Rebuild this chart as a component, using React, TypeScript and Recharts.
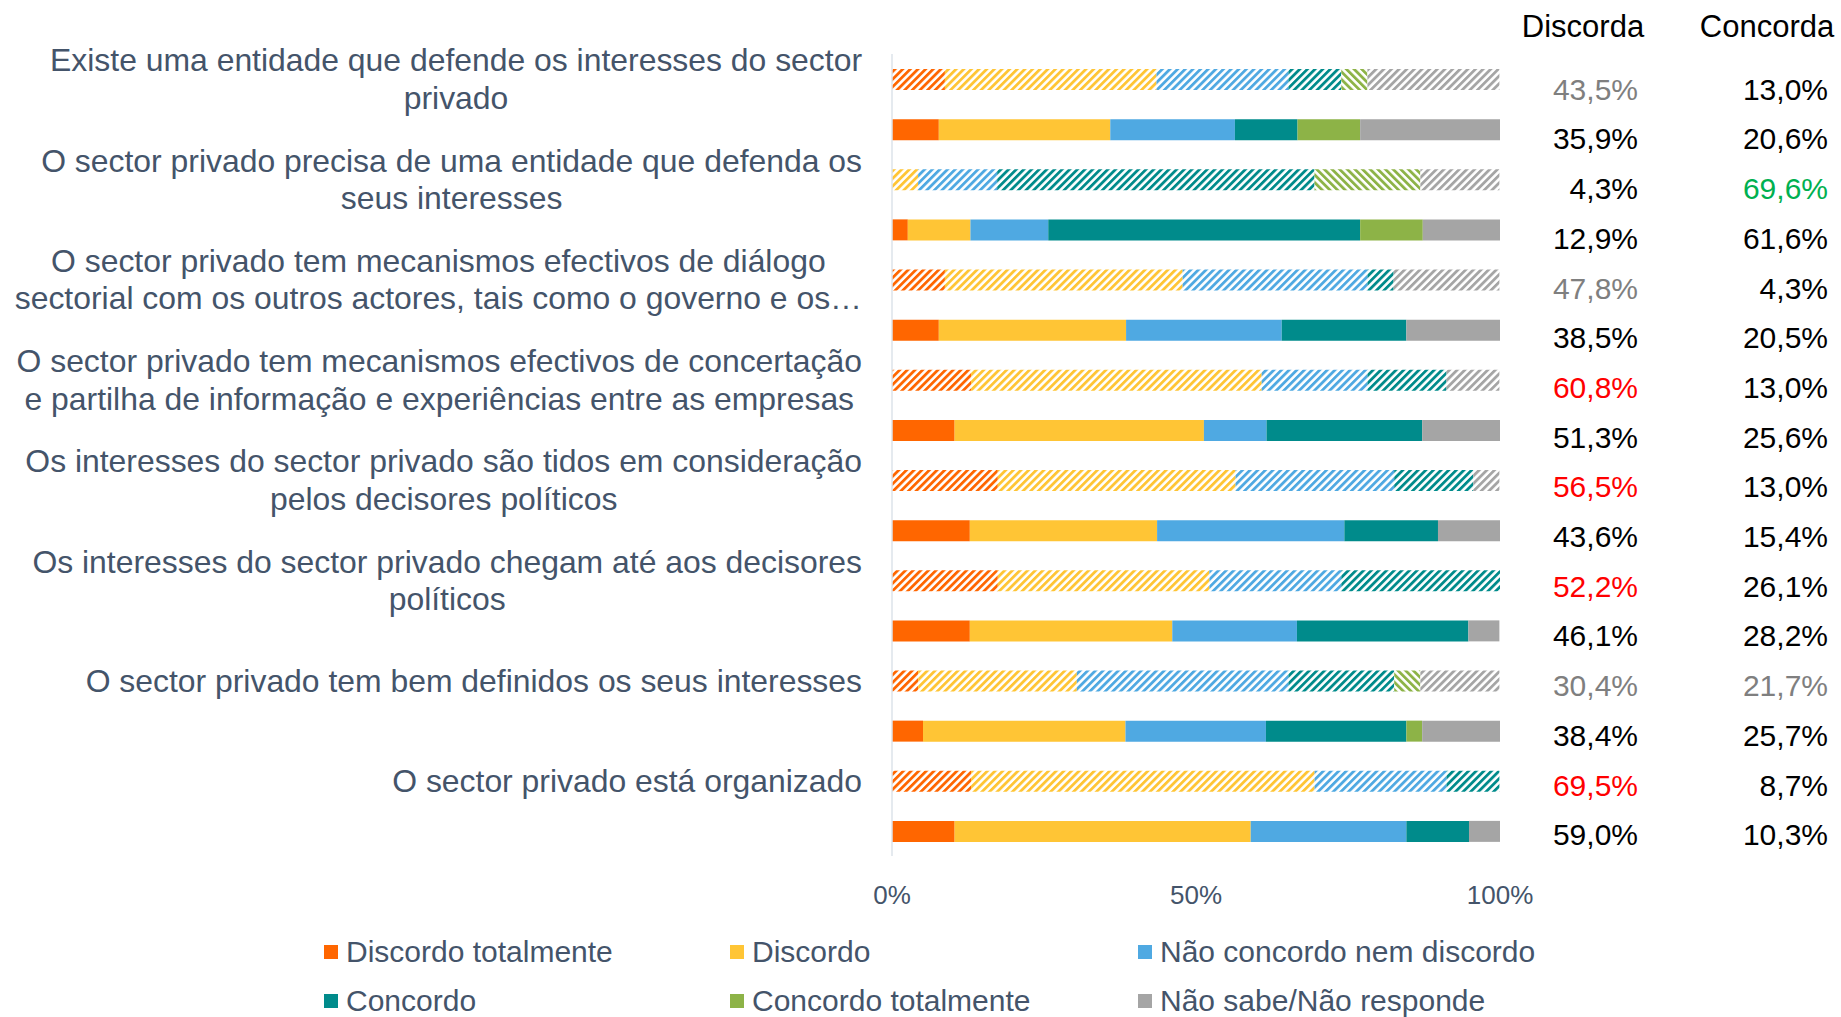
import React from 'react';
import { BarChart, Bar, XAxis, YAxis, Cell } from 'recharts';

const FONT = '"Liberation Sans", Arial, sans-serif';
const SLATE = '#44546a';

// 16 rows: even index = hatched (first survey), odd index = solid (second survey)
const rowIds = ['r0','r1','r2','r3','r4','r5','r6','r7','r8','r9','r10','r11','r12','r13','r14','r15'];
const hatchedRows = [true,false,true,false,true,false,true,false,true,false,true,false,true,false,true,false];

const categoryLines: (string[] | null)[] = [
  ['Existe uma entidade que defende os interesses do sector', 'privado'], null,
  ['O sector privado precisa de uma entidade que defenda os', 'seus interesses'], null,
  ['O sector privado tem mecanismos efectivos de diálogo', 'sectorial com os outros actores, tais como o governo e os…'], null,
  ['O sector privado tem mecanismos efectivos de concertação', 'e partilha de informação e experiências entre as empresas'], null,
  ['Os interesses do sector privado são tidos em consideração', 'pelos decisores políticos'], null,
  ['Os interesses do sector privado chegam até aos decisores', 'políticos'], null,
  ['O sector privado tem bem definidos os seus interesses'], null,
  ['O sector privado está organizado'], null,
];

const discordoTotalmente = [8.7, 7.7, 0, 2.6, 8.7, 7.7, 13.0, 10.3, 17.4, 12.8, 17.4, 12.8, 4.3, 5.1, 13.0, 10.3];
const discordo = [34.8, 28.2, 4.3, 10.3, 39.1, 30.8, 47.8, 41.0, 39.1, 30.8, 34.8, 33.3, 26.1, 33.3, 56.5, 48.7];
const naoConcordo = [21.7, 20.5, 13.0, 12.8, 30.4, 25.6, 17.4, 10.3, 26.1, 30.8, 21.7, 20.5, 34.8, 23.1, 21.7, 25.6];
const concordo = [8.7, 10.3, 52.2, 51.3, 4.3, 20.5, 13.0, 25.6, 13.0, 15.4, 26.1, 28.2, 17.4, 23.1, 8.7, 10.3];
const concordoTotalmente = [4.3, 10.3, 17.4, 10.3, 0, 0, 0, 0, 0, 0, 0, 0, 4.3, 2.6, 0, 0];
const naoSabe = [21.7, 23.1, 13.0, 12.8, 17.4, 15.4, 8.7, 12.8, 4.3, 10.3, 0, 5.1, 13.0, 12.8, 0, 5.1];

const discordaLabels = ['43,5%','35,9%','4,3%','12,9%','47,8%','38,5%','60,8%','51,3%','56,5%','43,6%','52,2%','46,1%','30,4%','38,4%','69,5%','59,0%'];
const concordaLabels = ['13,0%','20,6%','69,6%','61,6%','4,3%','20,5%','13,0%','25,6%','13,0%','15,4%','26,1%','28,2%','21,7%','25,7%','8,7%','10,3%'];
const discordaColors = ['#7f7f7f','#000','#000','#000','#7f7f7f','#000','#ff0000','#000','#ff0000','#000','#ff0000','#000','#7f7f7f','#000','#ff0000','#000'];
const concordaColors = ['#000','#000','#00b050','#000','#000','#000','#000','#000','#000','#000','#000','#000','#7f7f7f','#000','#000','#000'];

const xTicks = [0, 50, 100];

const series = [
  { key: 'dt', name: 'Discordo totalmente', color: '#ff6600', values: discordoTotalmente, dir: 45 },
  { key: 'd', name: 'Discordo', color: '#ffc535', values: discordo, dir: 45 },
  { key: 'n', name: 'Não concordo nem discordo', color: '#4fa9e2', values: naoConcordo, dir: 45 },
  { key: 'c', name: 'Concordo', color: '#008b8b', values: concordo, dir: 45 },
  { key: 'ct', name: 'Concordo totalmente', color: '#8db347', values: concordoTotalmente, dir: -45 },
  { key: 'ns', name: 'Não sabe/Não responde', color: '#a5a5a5', values: naoSabe, dir: 45 },
];

const data = rowIds.map((id, i) => {
  const row: any = { id, hatched: hatchedRows[i] };
  series.forEach((s) => { row[s.key] = s.values[i]; });
  return row;
});

let ctx: CanvasRenderingContext2D | null = null;
const measure = (s: string, size: number) => {
  if (!ctx) ctx = document.createElement('canvas').getContext('2d');
  if (!ctx) return s.length * size * 0.5;
  ctx.font = `${size}px ${FONT}`;
  return ctx.measureText(s).width;
};

const LABEL_SIZE = 31.9;
const LINE_H = 37.6;
const LABEL_RIGHT = 862;

// value table rows are laid out slightly differently from the bar rows
const TABLE_TOP = 89.2;
const TABLE_STEP = 49.7;

const LeftTick = (props: any) => {
  const { y, index } = props;
  const lines = categoryLines[index];
  if (!lines) return null;
  const w = Math.max(...lines.map((l) => measure(l, LABEL_SIZE)));
  const cx = LABEL_RIGHT - w / 2;
  return (
    <g>
      {lines.map((l, i) => (
        <text key={i} x={cx} y={y + (i - (lines.length - 1) / 2) * LINE_H} textAnchor="middle" dominantBaseline="central"
          fontFamily={FONT} fontSize={LABEL_SIZE} fill={SLATE}>{l}</text>
      ))}
    </g>
  );
};

const RightTick = (props: any) => {
  const { index } = props;
  const ty = TABLE_TOP + index * TABLE_STEP;
  return (
    <g>
      {index === 0 && (
        <>
          <text x={1583} y={26} textAnchor="middle" dominantBaseline="central" fontFamily={FONT} fontSize={31} fill="#000">Discorda</text>
          <text x={1767} y={26} textAnchor="middle" dominantBaseline="central" fontFamily={FONT} fontSize={31} fill="#000">Concorda</text>
        </>
      )}
      <text x={1638} y={ty} textAnchor="end" dominantBaseline="central" fontFamily={FONT} fontSize={30} fill={discordaColors[index]}>{discordaLabels[index]}</text>
      <text x={1828} y={ty} textAnchor="end" dominantBaseline="central" fontFamily={FONT} fontSize={30} fill={concordaColors[index]}>{concordaLabels[index]}</text>
    </g>
  );
};

const XTick = (props: any) => {
  const { x, y, payload } = props;
  return (
    <text x={x} y={y + 31} textAnchor="middle" dominantBaseline="central" fontFamily={FONT} fontSize={26} fill={SLATE}>{`${payload.value}%`}</text>
  );
};

const legendCols = [324, 730, 1138];
const legendRows = [952, 1001];

export default function App() {
  return (
    <div style={{ position: 'absolute', left: 0, top: 0, width: 1841, height: 1017, background: '#fff' }}>
      <BarChart width={1841} height={1017} data={data} layout="vertical"
        margin={{ top: 54, right: 0, bottom: 101, left: 0 }}>
        <defs>
          {series.map((s) => (
            <pattern key={s.key} id={`hatch-${s.key}`} patternUnits="userSpaceOnUse" width={5.4} height={5.4}
              patternTransform={`rotate(${s.dir})`}>
              <rect x={0} y={0} width={5.4} height={5.4} fill="#fff" />
              <rect x={0} y={0} width={2.8} height={5.4} fill={s.color} />
            </pattern>
          ))}
        </defs>
        <XAxis type="number" domain={[0, 100]} allowDataOverflow ticks={xTicks} axisLine={false} tickLine={false}
          height={60} tick={<XTick />} interval={0} />
        <YAxis yAxisId="left" type="category" dataKey="id" width={892} axisLine={{ stroke: '#dde3ea', strokeWidth: 1.5 }}
          tickLine={false} tick={<LeftTick />} interval={0} />
        <YAxis yAxisId="right" orientation="right" type="category" dataKey="id" width={341} axisLine={false}
          tickLine={false} tick={<RightTick />} interval={0} />
        {series.map((s) => (
          <Bar key={s.key} yAxisId="left" dataKey={s.key} name={s.name} stackId="a" barSize={21} isAnimationActive={false}>
            {data.map((row, i) => (
              <Cell key={i} fill={row.hatched ? `url(#hatch-${s.key})` : s.color} />
            ))}
          </Bar>
        ))}
      </BarChart>
      {series.map((s, i) => {
        const left = legendCols[i % 3];
        const top = legendRows[Math.floor(i / 3)];
        return (
          <div key={s.key} style={{ position: 'absolute', left, top: top - 20, height: 40, display: 'flex', alignItems: 'center',
            fontFamily: FONT, fontSize: 30, color: SLATE, whiteSpace: 'nowrap' }}>
            <span style={{ display: 'inline-block', width: 14, height: 14, background: s.color, marginRight: 8 }} />
            {s.name}
          </div>
        );
      })}
    </div>
  );
}
